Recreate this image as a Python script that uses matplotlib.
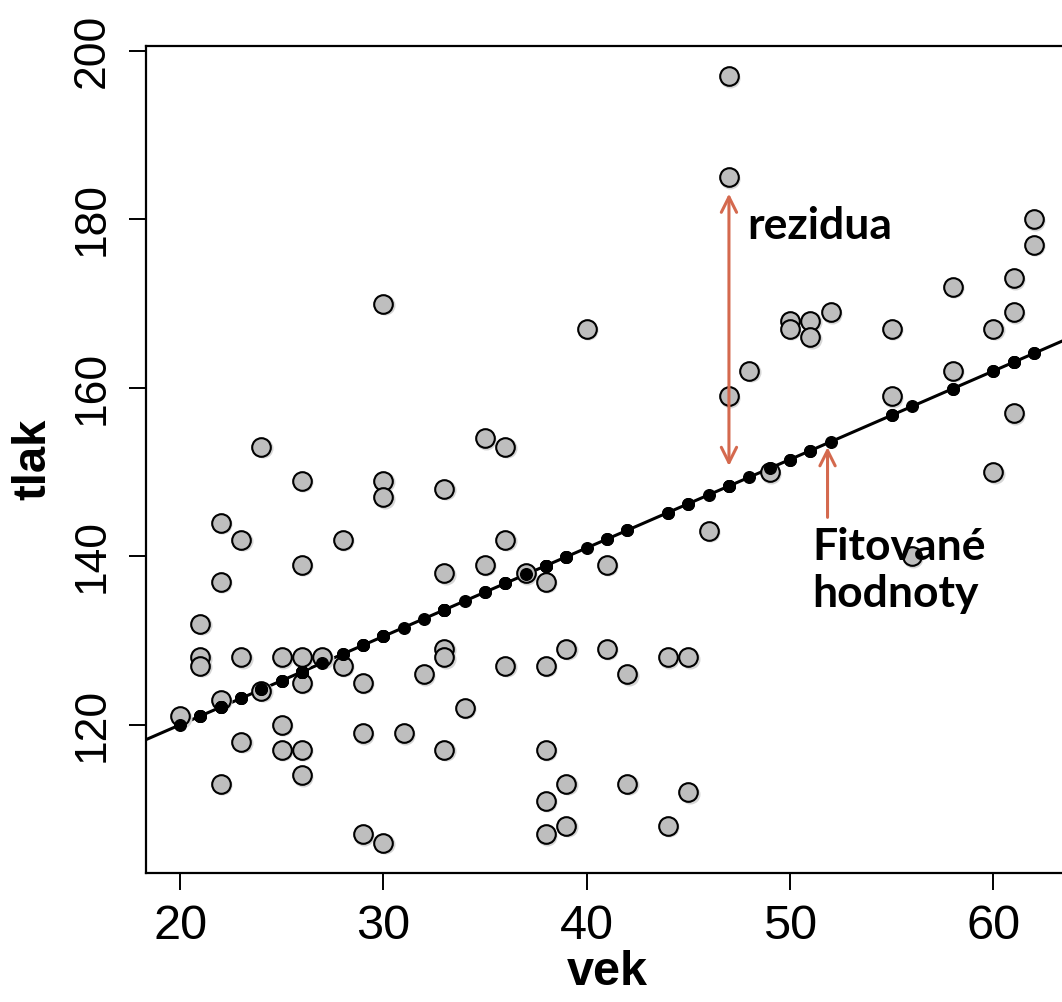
import numpy as np
import matplotlib
matplotlib.use("Agg")
import matplotlib.pyplot as plt
from matplotlib.transforms import offset_copy

# vek (age) and tlak (blood pressure)
vek = [20, 21, 21, 21, 22, 22, 22, 22, 23, 23, 23, 24, 24, 25, 25, 25,
       26, 26, 26, 26, 26, 26, 27, 28, 28, 29, 29, 29, 30, 30, 30, 30,
       31, 32, 33, 33, 33, 33, 33, 34, 35, 35, 36, 36, 36, 37,
       38, 38, 38, 38, 38, 39, 39, 39, 40, 41, 41, 42, 42, 44, 44, 45, 45,
       46, 47, 47, 47, 48, 49, 50, 50, 51, 51, 52, 55, 55, 56, 58, 58,
       60, 60, 61, 61, 61, 62, 62]
tlak = [121, 132, 128, 127, 144, 137, 123, 113, 142, 128, 118, 153, 124, 128, 120, 117,
        149, 139, 128, 125, 117, 114, 128, 142, 127, 125, 119, 107, 170, 149, 147, 106,
        119, 126, 148, 138, 129, 128, 117, 122, 154, 139, 153, 142, 127, 138,
        137, 127, 117, 111, 107, 129, 113, 108, 167, 139, 129, 126, 113, 128, 108, 128, 112,
        143, 197, 185, 159, 162, 150, 168, 167, 168, 166, 169, 167, 159, 140, 172, 162,
        167, 150, 173, 169, 157, 180, 177]

# regression line as it appears in the picture
intercept = 99.0
slope = 1.05

x_ticks = [20, 30, 40, 50, 60]
y_ticks = [120, 140, 160, 180, 200]

arrow_col = "#d4694e"

x = np.array(vek, dtype=float)
y = np.array(tlak, dtype=float)
fitted = intercept + slope * x

fig = plt.figure(figsize=(10.62, 10.02), dpi=100)
ax = fig.add_axes([146 / 1062, 1 - 873 / 1002, 922 / 1062, 827 / 1002])

ax.set_xlim(18.32, 63.68)
ax.set_ylim(102.4, 200.6)

xx = np.array(ax.get_xlim())
ax.plot(xx, intercept + slope * xx, color="black", lw=2.2, zorder=2)

# faint shadow under the points
shadow = offset_copy(ax.transData, fig=fig, x=1.0, y=-1.0, units="points")
ax.scatter(x, y, s=180, color="#d6d6d6", transform=shadow, zorder=2.5)
ax.scatter(x, y, s=180, facecolor="#bebebe", edgecolor="black",
           linewidth=1.5, zorder=3)
ax.scatter(x, fitted, s=70, color="black", zorder=4)

# residual arrow
ax.annotate("", xy=(47, 183.4), xytext=(47, 150.4),
            arrowprops=dict(arrowstyle="<->,head_length=1.1,head_width=0.55",
                            color=arrow_col, lw=2.2), zorder=5)
ax.text(47.9, 179.2, "rezidua", fontfamily="Lato", fontweight="bold",
        fontsize=32, ha="left", va="center", zorder=6)

# fitted value arrow
ax.annotate("", xy=(51.85, 153.3), xytext=(51.85, 144.3),
            arrowprops=dict(arrowstyle="->,head_length=1.1,head_width=0.55",
                            color=arrow_col, lw=2.2), zorder=5)
ax.text(51.1, 138.3, "Fitované\nhodnoty", fontfamily="Lato", fontweight="bold",
        fontsize=32, ha="left", va="center", linespacing=1.2, zorder=6)

ax.set_xticks(x_ticks)
ax.set_yticks(y_ticks)
ax.set_xticklabels([str(t) for t in x_ticks], fontfamily="Liberation Sans", fontsize=35)
ax.set_yticklabels([str(t) for t in y_ticks], fontfamily="Liberation Sans", fontsize=32,
                   rotation=90, va="center")
ax.tick_params(length=12, width=1.4)
ax.tick_params(axis="x", pad=10)
ax.tick_params(axis="y", pad=12)

ax.set_xlabel("vek", fontfamily="Liberation Sans", fontweight="bold", fontsize=35, labelpad=1)
ax.set_ylabel("tlak", fontfamily="Liberation Sans", fontweight="bold", fontsize=34, labelpad=12)

for s in ax.spines.values():
    s.set_linewidth(1.6)

fig.savefig("out.png", dpi=100)
